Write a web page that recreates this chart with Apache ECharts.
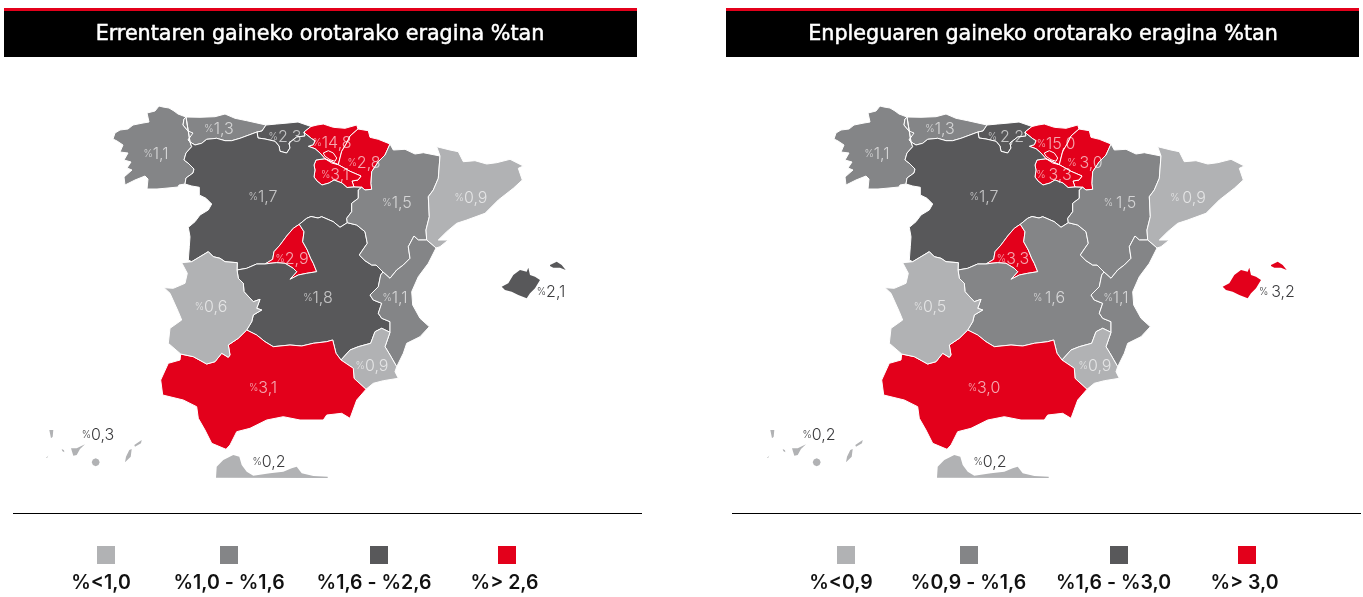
<!DOCTYPE html>
<html>
<head>
<meta charset="utf-8">
<title>Errentaren eta enpleguaren gaineko eragina</title>
<script src="https://cdn.jsdelivr.net/npm/echarts@6/dist/echarts.min.js"></script>
<style>
  html, body { margin: 0; padding: 0; background: #fff; }
  #chart { width: 1363px; height: 597px; }
</style>
</head>
<body>
<div id="chart"></div>
<script>
// data
const regions = ["Galizia", "Asturias", "Cantabria", "Euskadi", "Nafarroa", "Errioxa", "Gaztela eta Leon", "Madril", "Gaztela-Mantxa", "Aragoi", "Katalunia", "Valentzia", "Murtzia", "Andaluzia", "Extremadura", "Balearrak", "Kanariak", "Ceuta eta Melilla"];
const leftValues = [1.1, 1.3, 2.3, 14.8, 2.8, 3.1, 1.7, 2.9, 1.8, 1.5, 0.9, 1.1, 0.9, 3.1, 0.6, 2.1, 0.3, 0.2];
const rightValues = [1.1, 1.3, 2.2, 15.0, 3.0, 3.3, 1.7, 3.3, 1.6, 1.5, 0.9, 1.1, 0.9, 3.0, 0.5, 3.2, 0.2, 0.2];
const leftLabels = ["%1,1", "%1,3", "%2,3", "%14,8", "%2,8", "%3,1", "%1,7", "%2,9", "%1,8", "%1,5", "%0,9", "%1,1", "%0,9", "%3,1", "%0,6", "%2,1", "%0,3", "%0,2"];
const rightLabels = ["%1,1", "%1,3", "% 2,2", "%15,0", "% 3,0", "% 3,3", "%1,7", "%3,3", "% 1,6", "% 1,5", "% 0,9", "%1,1", "%0,9", "%3,0", "%0,5", "% 3,2", "%0,2", "%0,2"];
const leftTitle = "Errentaren gaineko orotarako eragina %tan";
const rightTitle = "Enpleguaren gaineko orotarako eragina %tan";
const leftLegend = ["%<1,0", "%1,0 - %1,6", "%1,6 - %2,6", "%> 2,6"];
const rightLegend = ["%<0,9", "%0,9 - %1,6", "%1,6 - %3,0", "%> 3,0"];
const leftPieces = [{ lt: 1 }, { gte: 1, lte: 1.6 }, { gt: 1.6, lte: 2.6 }, { gt: 2.6 }];
const rightPieces = [{ lte: 0.9 }, { gt: 0.9, lte: 1.6 }, { gt: 1.6, lt: 3 }, { gte: 3 }];
const classColors = ["#b1b2b4", "#848587", "#58585a", "#e3001b"];

// region outlines, shared borders are kept once so neighbours fit
const coastGal = [[186,117],[178,114],[174,111],[169,108],[163,107],[159,106],[155,111],[147,113],[149,122],[143,123],[133,125],[128,129],[120,130],[115,133],[113,139],[117,141],[123,145],[120,152],[128,153],[124,160],[131,162],[127,168],[132,170],[124,177],[125,185],[135,180],[145,176],[148,179],[147,189],[157,189],[168,188],[178,187],[179,185],[185,184]];
const galCyl = [[185,184],[186,178],[193,173],[194,169],[188,163],[184,160],[186,153],[191.7,146.7],[190,142]];
const galAst = [[190,142],[188,140],[193,133],[188,131],[183,125],[184,119],[186,117]];
const astCoast = [[186,117],[200,117.3],[215,116.7],[225,114],[235,118.3],[246.7,120.7],[266,125]];
const astCant = [[266,125],[262,131],[257,132]];
const astCyl = [[257,132],[240,138.3],[231.7,140.7],[225,140.7],[216.7,138.3],[206.7,139.3],[201.7,143.3],[195,145],[190,142]];
const cantCoast = [[266,125],[276.7,124],[288,123],[298,122],[311,126.5]];
const cantBasque = [[311,126.5],[304,132]];
const cantCyl = [[304,132],[305,136],[296.7,137],[289,143],[290,148],[286.7,153],[280,151.3],[279,146],[275,141.3],[265,139],[258,138],[257,132]];
const basqueCoast = [[311,126.5],[317,125],[323.3,124],[333.3,127.3],[345,128.3],[356.7,125],[358,129]];
const basqueNav = [[358,129],[350,136],[346.7,143],[341.7,151.3],[338.3,164.7]];
const basqueRioja = [[338.3,164.7],[331.7,163],[325,158.7]];
const basqueCyl = [[325,158.7],[320,153],[315,148.7],[308.3,146.3],[313.3,144.7],[315,140.7],[311.7,138.7],[305,133.3],[304,132]];
const trevino = [[323.3,153],[328.3,150.7],[333.3,153],[336.7,158],[335,161.3],[330,159.7],[325,156.3]];
const navCoast = [[358,129],[368.3,130.7],[370,137.3],[378.3,139.3],[390,144]];
const navAragon = [[390,144],[385,155],[378.3,161.7],[371.7,171.7],[371,183.3],[371.7,189.3],[365,190],[361.7,187.3]];
const navCylShort = [[361.7,187.3],[354,187]];
const riojaNav = [[354,187],[352,181],[358,180],[361,176],[350,171.3],[338.3,164.7]];
const riojaCyl = [[325,158.7],[316,160],[314,165],[315,170],[314,177],[317,181],[322,185],[329,183],[334,180],[342,183],[347,187.5],[354,187]];
const cylAragon = [[361.7,187.3],[358.3,190],[358.3,198.3],[351.7,203.3],[351.7,211.7],[346.7,218.3],[347.3,222.7]];
const cylClm = [[347.3,222.7],[340,227.3],[333.3,221.7],[321.7,216.7],[318,218],[311,216.5],[306.7,218.3],[299.3,224.3]];
const cylMadrid = [[299.3,224.3],[293.3,228.3],[286.7,236],[280,245],[274,251.7],[272.7,259.3],[265,264]];
const cylClmWest = [[265,264],[256.7,264],[246.7,268.3],[237,270]];
const cylExt = [[237,270],[237.3,262.7],[225,261.7],[220,258.3],[213.3,256.7],[208.3,251.7],[200,256.7],[191.7,261.7]];
const cylWest = [[191.7,261.7],[188.3,260],[189.3,246.7],[190,236.7],[188.3,227.3],[195,221.7],[200,215],[208.3,210],[211.7,204],[206,198.3],[199.3,195],[199.3,187.3],[191.7,186],[185,184]];
const madridClm = [[265,264],[270,263.3],[276.7,262.7],[285,263.3],[293.3,268.3],[296.7,271.7],[290,279.3],[298.3,275],[306.7,273.3],[316.7,271.7],[313.3,263.3],[310.7,258.3],[307.3,250],[302.7,241.7],[304,231.7],[299.3,224.3]];
const extClm = [[237,270],[238.3,278.3],[243.3,283.3],[244,291.7],[253.3,301.7],[260,299.3],[256.7,308.3],[261.7,310],[253.3,315],[251.7,321.7],[246.7,330]];
const clmAnd = [[246.7,330],[256.7,335],[265,341.7],[273.3,346.7],[290,345],[301.7,346],[313.3,343.3],[326.7,341.7],[332.7,340],[336,353.3],[341,360]];
const clmMurcia = [[341,360],[350,350],[358.3,346.7],[370.7,343.3],[375,331.7],[381.7,328.3],[390,332.3]];
const clmVal = [[390,332.3],[390,321.7],[381.7,318.3],[378.3,313.3],[381.7,303.3],[373.3,300],[370,295],[378.3,286.7],[380.7,275],[383,272]];
const clmAragon = [[383,272],[376,265],[371.7,265],[365,260.7],[359.3,255],[362.7,250],[367.3,243.3],[365,231.7],[356.7,225],[347.3,222.7]];
const aragonVal = [[383,272],[390,278.3],[396.7,270],[403.3,265],[410,258.3],[408.3,246.7],[414,236],[418.3,240],[426.7,240]];
const catVal = [[426.7,240],[436,248]];
const aragonCat = [[426.7,240],[426,230],[429.3,216.7],[428.3,196.7],[433.3,190],[438.3,178.3],[440,156]];
const aragonTop = [[390,144],[393.3,150],[405,149.3],[415,154],[423.3,152.7],[440,156]];
const catOuter = [[440,156],[436.7,146.7],[450,150],[458.3,151.7],[463.3,161.7],[475,160.7],[486.7,164],[496.7,162.7],[510,159.3],[523.3,166],[518.3,168.3],[522.3,180],[513.3,188.3],[498.3,200],[485,213.3],[466.7,220],[456.7,223.3],[446.7,231.7],[438.3,240],[448.3,240],[440,246.7],[436,248]];
const valCoast = [[436,248],[428.3,263.3],[418.3,276.7],[411.7,291.7],[412.7,305],[420,318.3],[429.3,326.7],[420,336.7],[406.7,343.3],[403.3,353.3],[396.7,366.7]];
const valMurcia = [[396.7,366.7],[390,355],[385,346.7],[390,332.3]];
const murciaCoast = [[396.7,366.7],[395,371.7],[398.3,378.3],[383.3,380.7],[373.3,383.3],[366,389.3]];
const murciaAnd = [[366,389.3],[354,378.3],[353.3,368.3],[341,360]];
const andCoast = [[366,389.3],[356.7,400],[350,418.3],[341.7,413.3],[326.7,415],[323.3,420],[300,420],[283.3,416.7],[266.7,420],[250,428.3],[236.7,431.7],[230,445],[226,449.3],[211.7,443.3],[205,430],[198.3,418.3],[196.7,406.7],[183.3,400],[162.7,395],[160.7,380],[168.3,363.3],[180,360],[180.7,354]];
const andExt = [[180.7,354],[193.3,356.7],[206.7,364],[215,361.7],[221.7,353.3],[228.3,357.3],[230,355],[228.3,345],[238.3,338.3],[246.7,330]];
const extWest = [[180.7,354],[168.3,343.3],[170,328.3],[181.7,320],[178.3,311.7],[170,293.3],[164,287.7],[173.3,288.3],[185,283.3],[187.3,273.3],[181.7,262.7],[191.7,261.7]];
const mallorca = [[501.7,286.7],[508.3,283.3],[513.3,275],[520,270],[526.7,271.7],[528.3,267.7],[530,275],[535,276.7],[540,280],[535,288.3],[530,293.3],[526.7,298.3],[518.3,295],[511.7,291.7],[505,290]];
const menorca = [[550,265],[556.7,261.7],[561.7,265],[565.7,270],[565,271],[560,267.7],[553.3,267.7],[550,266]];
const laPalma = [[49.3,430],[53.3,430],[52.7,436.7],[51,438.3]];
const hierro = [[46,458],[48.5,455.5],[47,458]];
const gomera = [[61.7,449],[64,450.3],[64.3,452.3],[62.3,451]];
const tenerife = [[71,448.3],[76.7,448.3],[85,444.3],[80,449],[76.7,455],[73.3,455.7]];
const granCanaria = [[95.7,458.3],[98.5,459.5],[99.7,462.3],[98.5,465.1],[95.7,466.3],[92.9,465.1],[91.7,462.3],[92.9,459.5]];
const fuerteventura = [[131.7,449],[130.7,456.7],[125,462.3],[126,456.7],[129.3,450]];
const lanzarote = [[134.3,445],[141.7,440],[141,443.3],[135,446.7]];
const ceutaMelilla = [[216,477.7],[216.7,466.7],[223.3,460],[233.3,455],[239.3,456.7],[241.7,465],[246.7,471.7],[253.3,475.7],[270,473.3],[283.3,471.7],[291.7,468.3],[296.7,466.7],[301.7,473.3],[313.3,476],[327.7,476.7],[327.7,478]];

const rev = (arc) => arc.slice().reverse();
const ring = (...arcs) => {
  const pts = [];
  arcs.forEach((arc) => arc.forEach((p) => {
    const last = pts[pts.length - 1];
    if (!last || last[0] !== p[0] || last[1] !== p[1]) pts.push(p);
  }));
  if (pts[0][0] !== pts[pts.length - 1][0] || pts[0][1] !== pts[pts.length - 1][1]) pts.push(pts[0]);
  return pts;
};

const shapes = [
  [ring(coastGal, galCyl, galAst)],
  [ring(astCoast, astCant, astCyl, rev(galAst))],
  [ring(cantCoast, cantBasque, cantCyl, rev(astCant))],
  [ring(basqueCoast, basqueNav, basqueRioja, basqueCyl, rev(cantBasque)), ring(trevino)],
  [ring(navCoast, navAragon, navCylShort, riojaNav, rev(basqueNav))],
  [ring(rev(basqueRioja), riojaCyl, riojaNav)],
  [ring(galCyl, rev(astCyl), rev(cantCyl), rev(basqueCyl), riojaCyl, rev(navCylShort), cylAragon, cylClm, cylMadrid, cylClmWest, cylExt, cylWest)],
  [ring(cylMadrid, madridClm)],
  [ring(cylClm, rev(madridClm), cylClmWest, extClm, clmAnd, clmMurcia, clmVal, clmAragon)],
  [ring(aragonTop, rev(aragonCat), rev(aragonVal), clmAragon, rev(cylAragon), rev(navAragon))],
  [ring(catOuter, rev(catVal), aragonCat)],
  [ring(catVal, valCoast, valMurcia, clmVal, aragonVal)],
  [ring(clmMurcia, rev(valMurcia), murciaCoast, murciaAnd)],
  [ring(clmAnd, rev(murciaAnd), andCoast, andExt)],
  [ring(rev(cylExt), extClm, rev(andExt), extWest)],
  [ring(mallorca), ring(menorca)],
  [ring(laPalma), ring(hierro), ring(gomera), ring(tenerife), ring(granCanaria), ring(fuerteventura), ring(lanzarote)],
  [ring(ceutaMelilla)]
];
// label anchor of each region
const anchors = [[156,154],[219,129],[285,137],[332,143],[364,163],[335,175],[263,197],[292,259],[318,298],[397,203],[471,198],[395,298],[372,366],[263,388],[211,307],[551,292],[98,435],[269,462]];
const outsideLabels = ["Balearrak", "Kanariak", "Ceuta eta Melilla"];

const allPts = shapes.flat(2);
const xs = allPts.map((p) => p[0]);
const ys = allPts.map((p) => p[1]);
const minX = Math.min(...xs), maxX = Math.max(...xs), minY = Math.min(...ys), maxY = Math.max(...ys);

const spainGeo = () => ({
  type: "FeatureCollection",
  features: regions.map((name, i) => ({
    type: "Feature",
    properties: { name, cp: anchors[i] },
    geometry: { type: "MultiPolygon", coordinates: shapes[i].map((r) => [r]) }
  }))
});
// each panel needs its own map name, otherwise ECharts merges the two series
echarts.registerMap("errenta", spainGeo());
echarts.registerMap("enplegua", spainGeo());

const panelGap = 721;
const barWidth = 633;

const mapSeries = (mapName, values, labels, dx, labelNudge) => ({
  type: "map",
  map: mapName,
  projection: { project: (p) => p, unproject: (p) => p },
  left: minX + dx,
  top: minY,
  width: maxX - minX,
  height: maxY - minY,
  roam: false,
  selectedMode: false,
  silent: true,
  showLegendSymbol: false,
  itemStyle: { borderColor: "#fff", borderWidth: 1 },
  label: {
    show: true,
    formatter: (p) => {
      const text = labels[regions.indexOf(p.name)];
      const m = text.match(/^%( ?)(.*)$/);
      return `{p|%${m[1]}}{v|${m[2]}}`;
    },
    rich: {
      p: { fontFamily: "Inter", fontWeight: 300, fontSize: 10 },
      v: { fontFamily: "Inter", fontWeight: 300, fontSize: 16 }
    }
  },
  data: regions.map((name, i) => {
    const outside = outsideLabels.includes(name);
    return {
      name,
      value: values[i],
      itemStyle: outside ? { borderWidth: 0 } : {},
      label: {
        color: outside ? "#3c3c3e" : "rgba(255,255,255,0.65)",
        offset: labelNudge[name] || [0, 0]
      }
    };
  })
});

const panelGraphics = (title, legend, dx, lineX, squareXs, textXs) => {
  const g = [
    { type: "rect", shape: { x: 4 + dx, y: 8, width: barWidth, height: 49 }, style: { fill: "#000" } },
    { type: "rect", shape: { x: 4 + dx, y: 8, width: barWidth, height: 3 }, style: { fill: "#e3001b" } },
    {
      type: "text",
      x: 320 + dx + (dx ? 1 : 0),
      y: 35,
      style: {
        text: title, fill: "#fff", stroke: "#fff", lineWidth: 0.5,
        font: "400 20.7px 'DejaVu Sans'", align: "center", verticalAlign: "middle"
      }
    },
    { type: "rect", shape: { x: lineX, y: 513, width: 629, height: 1 }, style: { fill: "#000" } }
  ];
  legend.forEach((text, i) => {
    g.push({ type: "rect", shape: { x: squareXs[i], y: 546, width: 18, height: 18 }, style: { fill: classColors[i] } });
    g.push({
      type: "text",
      x: textXs[i],
      y: 583,
      style: { text, fill: "#111", font: "600 19.5px Inter", align: "center", verticalAlign: "middle" }
    });
  });
  return g;
};

const chart = echarts.init(document.getElementById("chart"), null, { renderer: "canvas" });
chart.setOption({
  animation: false,
  backgroundColor: "#fff",
  visualMap: [
    { show: false, type: "piecewise", seriesIndex: 0, pieces: leftPieces.map((p, i) => ({ ...p, color: classColors[i] })) },
    { show: false, type: "piecewise", seriesIndex: 1, pieces: rightPieces.map((p, i) => ({ ...p, color: classColors[i] })) }
  ],
  series: [
    mapSeries("errenta", leftValues, leftLabels, 0, {}),
    mapSeries("enplegua", rightValues, rightLabels, panelGap, {
      "Katalunia": [-4, 0], "Gaztela-Mantxa": [10, 0], "Balearrak": [5, 0], "Aragoi": [2, 0], "Murtzia": [2, 0],
      "Euskadi": [3, 1], "Extremadura": [-2, 0], "Errioxa": [-2, 0]
    })
  ],
  graphic: [
    ...panelGraphics(leftTitle, leftLegend, 0, 13, [97, 220, 370, 498], [101, 229, 374, 504.5]),
    ...panelGraphics(rightTitle, rightLegend, 722, 732, [837, 960, 1110, 1238], [841, 968.5, 1113.5, 1244.5])
  ]
});
</script>
</body>
</html>
